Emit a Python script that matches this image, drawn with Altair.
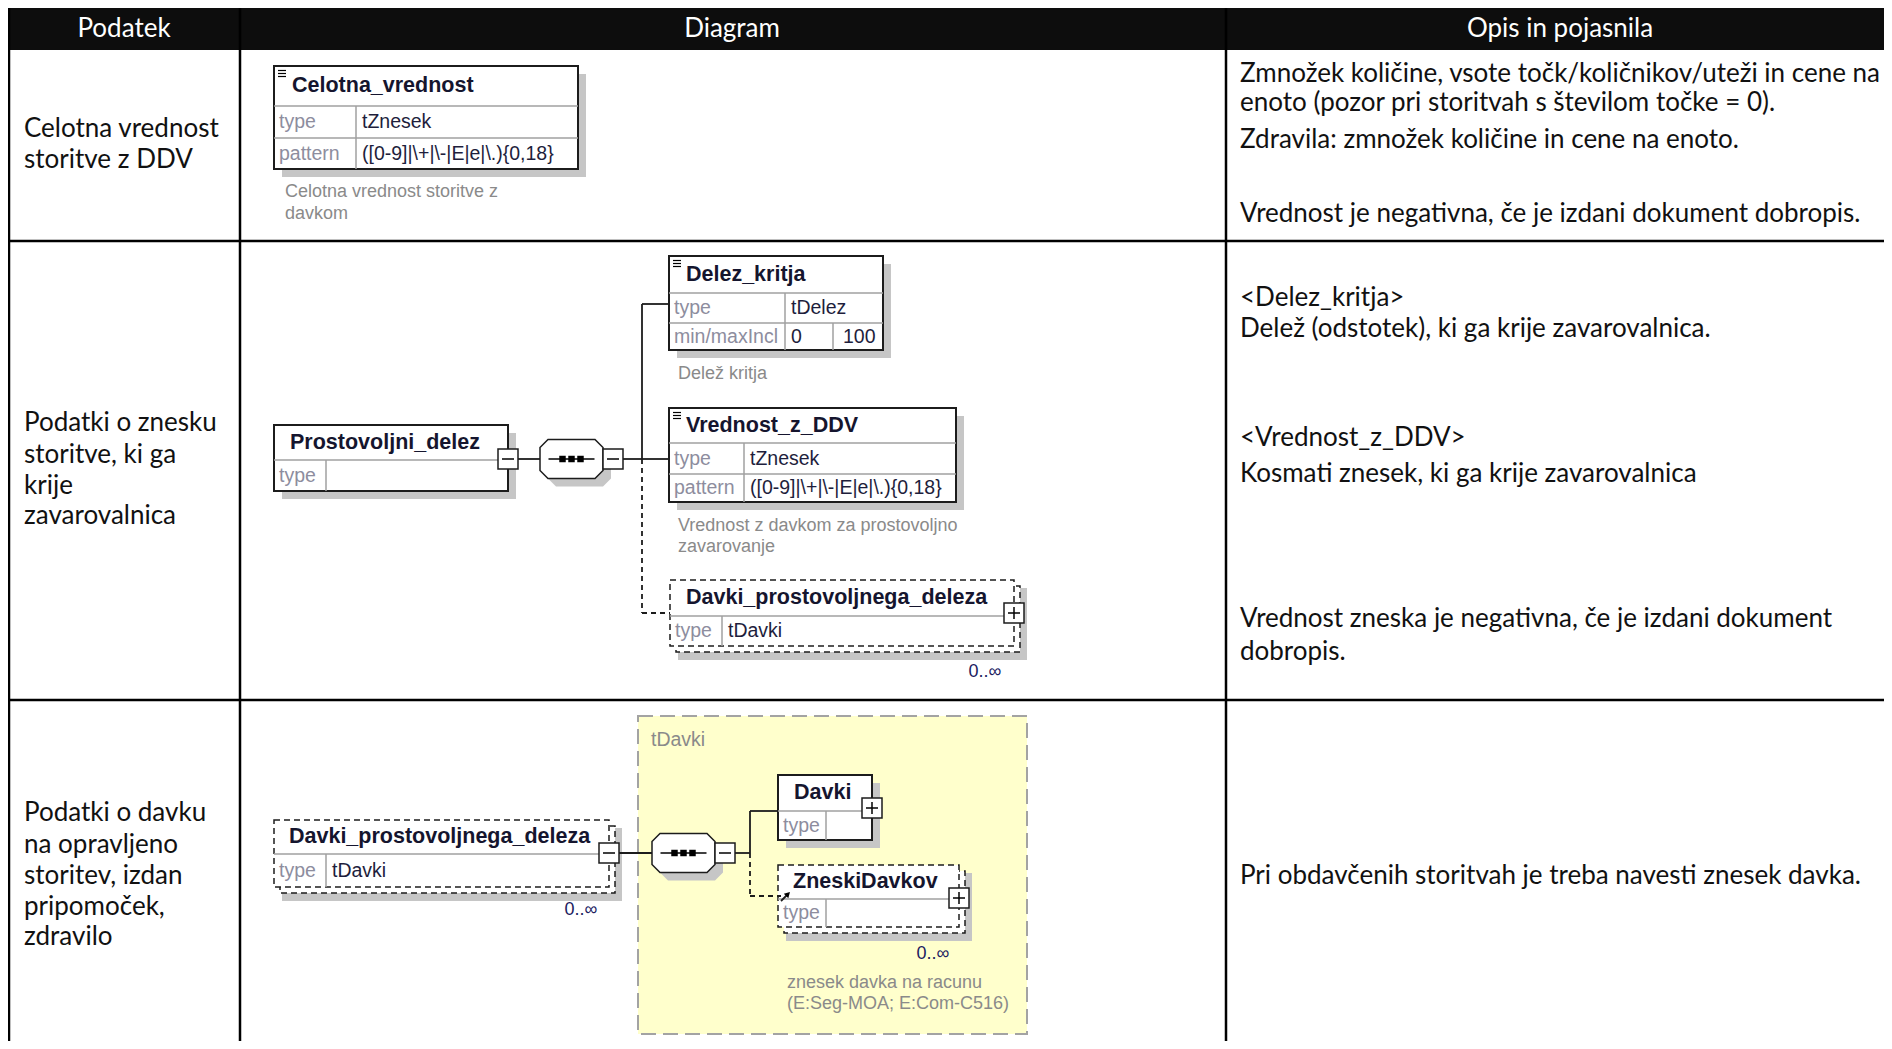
import altair as alt
import pandas as pd

# ---------------- text content ----------------
HEADERS = ["Podatek", "Diagram", "Opis in pojasnila"]
LEFT_TEXT = [
    ["Celotna vrednost", "storitve z DDV"],
    ["Podatki o znesku", "storitve, ki ga", "krije", "zavarovalnica"],
    ["Podatki o davku", "na opravljeno", "storitev, izdan", "pripomoček,", "zdravilo"],
]
RIGHT_TEXT = [
    ["Zmnožek količine, vsote točk/količnikov/uteži in cene na",
     "enoto (pozor pri storitvah s številom točke = 0).",
     "Zdravila: zmnožek količine in cene na enoto.",
     "Vrednost je negativna, če je izdani dokument dobropis."],
    ["<Delez_kritja>", "Delež (odstotek), ki ga krije zavarovalnica.",
     "<Vrednost_z_DDV>", "Kosmati znesek, ki ga krije zavarovalnica",
     "Vrednost zneska je negativna, če je izdani dokument", "dobropis."],
    ["Pri obdavčenih storitvah je treba navesti znesek davka."],
]
PATTERN = r"([0-9]|\+|\-|E|e|\.){0,18}"
TITLES = ["Celotna_vrednost", "Prostovoljni_delez", "Delez_kritja", "Vrednost_z_DDV",
          "Davki_prostovoljnega_deleza", "Davki_prostovoljnega_deleza", "Davki", "ZneskiDavkov"]
ROW_LABELS = [["type", "pattern"], ["type"], ["type", "min/maxIncl"], ["type", "pattern"],
              ["type"], ["type"], ["type"], ["type"]]
ROW_VALUES = [["tZnesek", PATTERN], [""], ["tDelez", "0"], ["tZnesek", PATTERN],
              ["tDavki"], ["tDavki"], [""], [""]]
EXTRA_VALUES = ["100"]
ANNOTATIONS = [["Celotna vrednost storitve z", "davkom"], ["Delež kritja"],
               ["Vrednost z davkom za prostovoljno", "zavarovanje"],
               ["znesek davka na racunu", "(E:Seg-MOA; E:Com-C516)"]]
CARDINALITY = ["0..∞", "0..∞", "0..∞"]
GROUP_TYPE = ["tDavki"]

# ---------------- layout (pixel positions of the page) ----------------
XMAX, YMAX = 1884, 1041
W, H = XMAX - 8, YMAX - 8
XS = alt.Scale(domain=[8, XMAX], range=[0, W], nice=False, zero=False)
YS = alt.Scale(domain=[8, YMAX], range=[0, H], nice=False, zero=False)

HEADER_X = [124, 732, 1560]
HEADER_Y = 29
LEFT_X, RIGHT_X = 24, 1240
LEFT_Y = [[129, 160], [423, 455, 486, 516], [813, 845, 876, 907, 937]]
RIGHT_Y = [[74, 103, 140, 214], [298, 329, 438, 474, 619, 652], [876]]

GEOM = [
    dict(x0=274, x1=578, y0=66, yt=106, rows=[138, 169], split=356, style="solid", icon=True, tx=292),
    dict(x0=274, x1=508, y0=425, yt=460, rows=[491], split=326, style="solid", icon=False, tx=290),
    dict(x0=669, x1=883, y0=256, yt=293, rows=[323, 350], split=785, style="solid", icon=True, tx=686),
    dict(x0=669, x1=956, y0=408, yt=443, rows=[474, 502], split=744, style="solid", icon=True, tx=686),
    dict(x0=670, x1=1014, y0=580, yt=616, rows=[646], split=722, style="multi", icon=False, tx=686),
    dict(x0=274, x1=609, y0=820, yt=854, rows=[887], split=326, style="multi", icon=False, tx=289),
    dict(x0=778, x1=872, y0=775, yt=811, rows=[840], split=826, style="solid", icon=False, tx=794),
    dict(x0=778, x1=959, y0=865, yt=899, rows=[927], split=826, style="multi", icon=False, tx=793),
]
EXTRA_POS = [dict(box=2, x=843, split2=833)]
ANNOT_POS = [(285, [192, 214]), (678, [374]), (678, [526, 547]), (787, [983, 1004])]
CARD_POS = [(985, 672), (581, 910), (933, 954)]
GROUP_BOX = dict(x0=638, x1=1027, y0=716, y1=1034, tx=651, ty=740)
OCTAGONS = [(571.5, 459), (683.5, 853)]
SIGNS = [(508, 459, "-"), (613, 459, "-"), (1014, 613, "+"), (609, 853, "-"),
         (725, 853, "-"), (872, 808, "+"), (959, 898, "+")]
CONN_SOLID = [(518, 540, 459, 459), (623, 642, 459, 459), (642, 642, 304, 459),
              (642, 669, 304, 304), (642, 669, 459, 459),
              (619, 652, 853, 853), (735, 750, 853, 853), (750, 750, 811, 853),
              (750, 778, 811, 811), (781, 788, 901, 894)]
CONN_DASH = [(642, 642, 459, 613), (642, 670, 613, 613),
             (750, 750, 853, 896), (750, 781, 896, 896)]
ARROW_HEAD = [(788, 894)]

TABLE_V = [9, 240, 1226]
TABLE_H = [241, 700]

DARK = "#1c1c1c"
GRAY_LINE = "#a0a0a0"
SHADOW = "#c6c6c6"
TITLE_C = "#15152e"
VALUE_C = "#1e1e3c"
LABEL_C = "#8d8d9e"
ANNOT_C = "#8a8a8a"
BODY_FONT = "Lato"
DIAG_FONT = "Liberation Sans"
BODY_SIZE = 26

# ---------------- build element tables ----------------
fills, back_boxes, solid_boxes, dashed_boxes = [], [], [], []
inner_lines, icon_lines = [], []
titles, labels, values = [], [], []

fills.append(dict(x=8, x2=XMAX, y=8, y2=50, c="#0d0d0d"))
fills.append(dict(x=GROUP_BOX["x0"], x2=GROUP_BOX["x1"], y=GROUP_BOX["y0"], y2=GROUP_BOX["y1"], c="#ffffcc"))

for i, g in enumerate(GEOM):
    x0, x1, y0, yt, y1 = g["x0"], g["x1"], g["y0"], g["yt"], g["rows"][-1]
    if g["style"] == "multi":
        fills.append(dict(x=x0 + 8, x2=x1 + 13, y=y0 + 8, y2=y1 + 14, c=SHADOW))
        back_boxes.append(dict(x=x0 + 6, x2=x1 + 6, y=y0 + 6, y2=y1 + 6))
        dashed_boxes.append(dict(x=x0, x2=x1, y=y0, y2=y1))
    else:
        fills.append(dict(x=x0 + 8, x2=x1 + 8, y=y0 + 8, y2=y1 + 8, c=SHADOW))
        solid_boxes.append(dict(x=x0, x2=x1, y=y0, y2=y1))
    inner_lines.append(dict(x=x0, x2=x1, y=yt, y2=yt))
    for r in g["rows"][:-1]:
        inner_lines.append(dict(x=x0, x2=x1, y=r, y2=r))
    inner_lines.append(dict(x=g["split"], x2=g["split"], y=yt, y2=y1))
    if g["icon"]:
        for d in (4.5, 7.5, 10.5):
            icon_lines.append(dict(x=x0 + 4, x2=x0 + 12, y=y0 + d, y2=y0 + d))
    titles.append(dict(x=g["tx"], y=(y0 + yt) / 2, t=TITLES[i]))
    tops = [yt] + g["rows"][:-1]
    for j, (lab, val) in enumerate(zip(ROW_LABELS[i], ROW_VALUES[i])):
        ym = (tops[j] + g["rows"][j]) / 2
        labels.append(dict(x=x0 + 5, y=ym, t=lab))
        if val:
            values.append(dict(x=g["split"] + 6, y=ym, t=val))

for k, e in enumerate(EXTRA_POS):
    g = GEOM[e["box"]]
    inner_lines.append(dict(x=e["split2"], x2=e["split2"], y=g["rows"][-2], y2=g["rows"][-1]))
    values.append(dict(x=e["x"], y=(g["rows"][-2] + g["rows"][-1]) / 2, t=EXTRA_VALUES[k]))

annots = []
for lines, (ax, ys) in zip(ANNOTATIONS, ANNOT_POS):
    for t, yy in zip(lines, ys):
        annots.append(dict(x=ax, y=yy, t=t))
cards = [dict(x=cx, y=cy, t=t) for t, (cx, cy) in zip(CARDINALITY, CARD_POS)]

sign_boxes, sign_lines = [], []
for cx, cy, s in SIGNS:
    sign_boxes.append(dict(x=cx - 10, x2=cx + 10, y=cy - 10, y2=cy + 10))
    sign_lines.append(dict(x=cx - 6, x2=cx + 6, y=cy, y2=cy))
    if s == "+":
        sign_lines.append(dict(x=cx, x2=cx, y=cy - 6, y2=cy + 6))

oct_pts = [dict(x=cx, y=cy) for cx, cy in OCTAGONS]
oct_shadow = [dict(x=cx + 8, y=cy + 8) for cx, cy in OCTAGONS]
oct_lines = [dict(x=cx - 23, x2=cx + 23, y=cy, y2=cy) for cx, cy in OCTAGONS]
dots = [dict(x=cx + d, y=cy) for cx, cy in OCTAGONS for d in (-9, 0, 9)]

table_lines = [dict(x=v, x2=v, y=8, y2=YMAX) for v in TABLE_V] + \
              [dict(x=8, x2=XMAX, y=h, y2=h) for h in TABLE_H]

header_txt = [dict(x=hx, y=HEADER_Y, t=t) for hx, t in zip(HEADER_X, HEADERS)]
body_txt = []
for lines, ys in zip(LEFT_TEXT, LEFT_Y):
    body_txt += [dict(x=LEFT_X, y=yy, t=t) for t, yy in zip(lines, ys)]
for lines, ys in zip(RIGHT_TEXT, RIGHT_Y):
    body_txt += [dict(x=RIGHT_X, y=yy, t=t) for t, yy in zip(lines, ys)]
group_txt = [dict(x=GROUP_BOX["tx"], y=GROUP_BOX["ty"], t=GROUP_TYPE[0])]
group_border = [dict(x=GROUP_BOX["x0"], x2=GROUP_BOX["x1"], y=GROUP_BOX["y0"], y2=GROUP_BOX["y1"])]

# ---------------- chart helpers ----------------
def X():
    return alt.X("x:Q", scale=XS, axis=None)

def Y():
    return alt.Y("y:Q", scale=YS, axis=None)

def rect_layer(rows, **mark):
    return alt.Chart(pd.DataFrame(rows)).mark_rect(**mark).encode(
        x=X(), x2="x2:Q", y=Y(), y2="y2:Q")

def rule_layer(rows, **mark):
    return alt.Chart(pd.DataFrame(rows)).mark_rule(**mark).encode(
        x=X(), x2="x2:Q", y=Y(), y2="y2:Q")

def text_layer(rows, **mark):
    return alt.Chart(pd.DataFrame(rows)).mark_text(**mark).encode(
        x=X(), y=Y(), text="t:N")

def point_layer(rows, **mark):
    return alt.Chart(pd.DataFrame(rows)).mark_point(**mark).encode(x=X(), y=Y())

OCT_PATH = ("M -0.746 -0.619 L 0.746 -0.619 L 1 -0.365 L 1 0.365 L 0.746 0.619 "
            "L -0.746 0.619 L -1 0.365 L -1 -0.365 Z")
OCT_SIZE = 63 * 63

layers = [
    alt.Chart(pd.DataFrame(fills)).mark_rect(strokeWidth=0).encode(
        x=X(), x2="x2:Q", y=Y(), y2="y2:Q", fill=alt.Fill("c:N", scale=None)),
    rect_layer(group_border, fillOpacity=0, stroke="#a3a3a3", strokeWidth=2, strokeDash=[15, 7]),
    point_layer(oct_shadow, shape=OCT_PATH, size=OCT_SIZE, filled=True, color=SHADOW, opacity=1),
    rect_layer(back_boxes, fill="white", stroke=DARK, strokeWidth=1.5, strokeDash=[6, 4]),
    rect_layer(solid_boxes, fill="white", stroke=DARK, strokeWidth=2),
    rect_layer(dashed_boxes, fill="white", stroke=DARK, strokeWidth=1.5, strokeDash=[6, 4]),
    rule_layer(inner_lines, color=GRAY_LINE, strokeWidth=1.5),
    rule_layer(icon_lines, color="#000000", strokeWidth=1.2),
    rule_layer([dict(x=a, x2=b, y=c, y2=d) for a, b, c, d in CONN_SOLID],
               color=DARK, strokeWidth=1.8),
    rule_layer([dict(x=a, x2=b, y=c, y2=d) for a, b, c, d in CONN_DASH],
               color=DARK, strokeWidth=1.8, strokeDash=[5, 4]),
    point_layer([dict(x=a, y=b) for a, b in ARROW_HEAD], shape="triangle-up", angle=45,
                size=40, filled=True, color="#000000", opacity=1),
    point_layer(oct_pts, shape=OCT_PATH, size=OCT_SIZE, filled=True, fill="white",
                stroke=DARK, strokeWidth=1.5, opacity=1),
    rule_layer(oct_lines, color="#000000", strokeWidth=1.5),
    point_layer(dots, shape="square", size=42, filled=True, color="#000000", opacity=1),
    rect_layer(sign_boxes, fill="white", stroke=DARK, strokeWidth=1.5),
    rule_layer(sign_lines, color="#000000", strokeWidth=1.5),
    rule_layer(table_lines, color="#000000", strokeWidth=2.5),
    text_layer(header_txt, align="center", baseline="middle", font=BODY_FONT, fontSize=BODY_SIZE, color="white"),
    text_layer(body_txt, align="left", baseline="middle", font=BODY_FONT, fontSize=BODY_SIZE, color="#111111"),
    text_layer(titles, align="left", baseline="middle", font=DIAG_FONT, fontSize=21.5,
               fontWeight="bold", color=TITLE_C),
    text_layer(labels, align="left", baseline="middle", font=DIAG_FONT, fontSize=19.5, color=LABEL_C),
    text_layer(values, align="left", baseline="middle", font=DIAG_FONT, fontSize=19.5, color=VALUE_C),
    text_layer(annots, align="left", baseline="middle", font=DIAG_FONT, fontSize=18, color=ANNOT_C),
    text_layer(cards, align="center", baseline="middle", font=DIAG_FONT, fontSize=18, color="#202060"),
    text_layer(group_txt, align="left", baseline="middle", font=DIAG_FONT, fontSize=19.5, color="#8a8a8a"),
]

chart = alt.layer(*layers).properties(
    width=W, height=H, autosize=alt.AutoSizeParams(type="none"), padding=0,
    background="white",
).configure_view(stroke=None)

chart.save("out.html", embed_options={"renderer": "svg", "actions": False})
